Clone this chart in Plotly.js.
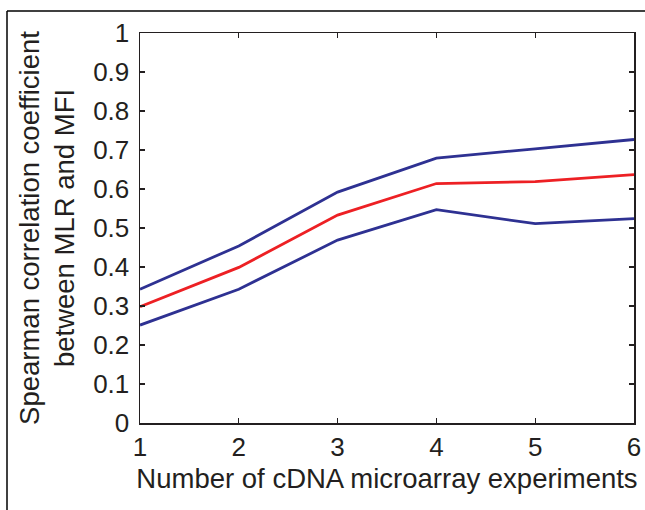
<!DOCTYPE html>
<html>
<head>
<meta charset="utf-8">
<script src="https://cdn.plot.ly/plotly-3.0.1.min.js"></script>
<style>html,body{margin:0;padding:0;background:#fff;}#chart{width:645px;height:510px;}</style>
</head>
<body>
<div id="chart"></div>
<script>
const experiments = [1, 2, 3, 4, 5, 6];
const upperBound = [0.343, 0.454, 0.592, 0.679, 0.703, 0.727];
const meanCorr   = [0.298, 0.399, 0.533, 0.614, 0.619, 0.637];
const lowerBound = [0.251, 0.343, 0.469, 0.547, 0.511, 0.524];
const xTicks = [1, 2, 3, 4, 5, 6];
const yTicks = [0, 0.1, 0.2, 0.3, 0.4, 0.5, 0.6, 0.7, 0.8, 0.9, 1];

const blue = '#2e3192';
const red = '#ed2024';
const ink = '#231f20';
const fontFam = 'Liberation Sans, Arial, Helvetica, sans-serif';

const traces = [
  {x: experiments, y: upperBound, mode: 'lines', line: {color: blue, width: 2.8}, hoverinfo: 'skip'},
  {x: experiments, y: lowerBound, mode: 'lines', line: {color: blue, width: 2.8}, hoverinfo: 'skip'},
  {x: experiments, y: meanCorr, mode: 'lines', line: {color: red, width: 2.8}, hoverinfo: 'skip'}
];

const W = 645, H = 510, L = 140, R = 11, T = 33, B = 87;
const pw = W - L - R, ph = H - T - B;
const px = v => (v - L) / pw;
const py = v => (H - B - v) / ph;

const layout = {
  width: W, height: H,
  margin: {l: L, r: R, t: T, b: B, pad: 0},
  paper_bgcolor: '#ffffff', plot_bgcolor: '#ffffff',
  showlegend: false,
  font: {family: fontFam, size: 26, color: ink},
  xaxis: {
    range: [1, 6], tickvals: xTicks, ticktext: xTicks.map(String),
    ticks: 'inside', ticklen: 5, tickwidth: 1.3, tickcolor: ink,
    showline: true, linecolor: ink, linewidth: 1.5, mirror: 'all',
    showgrid: false, zeroline: false,
    tickfont: {size: 26, color: ink},
    title: {text: 'Number of cDNA microarray experiments', font: {size: 27.5, color: ink}, standoff: 8}
  },
  yaxis: {
    range: [0, 1], tickvals: yTicks, ticktext: yTicks.map(v => String(v)),
    ticks: 'inside', ticklen: 5, tickwidth: 1.3, tickcolor: ink,
    showline: true, linecolor: ink, linewidth: 1.5, mirror: 'all',
    showgrid: false, zeroline: false,
    tickfont: {size: 26, color: ink},
    ticklabelstandoff: 4,
    title: {text: 'Spearman correlation coefficient<br>between MLR and MFI', font: {size: 27.5, color: ink}, standoff: 10}
  },
  shapes: [
    {type: 'line', xref: 'paper', yref: 'paper', x0: px(7), x1: px(700), y0: py(11), y1: py(11), line: {color: '#000', width: 1.5}},
    {type: 'line', xref: 'paper', yref: 'paper', x0: px(7), x1: px(7), y0: py(11), y1: py(560), line: {color: '#000', width: 1.5}}
  ]
};

Plotly.newPlot('chart', traces, layout, {displayModeBar: false, staticPlot: true});
</script>
</body>
</html>
